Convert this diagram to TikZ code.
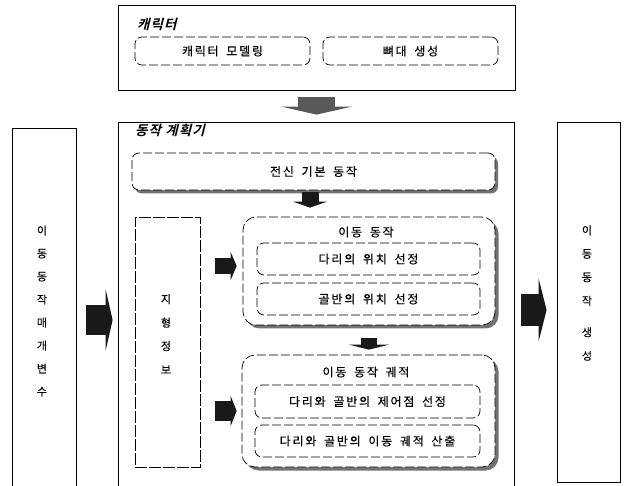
\documentclass[tikz,border=0pt]{standalone}
\usepackage{fontspec}
\newfontfamily\kr[LetterSpace=15, WordSpace=1.7, FakeBold=0.4]{Noto Sans CJK KR}
\newfontfamily\krt[FakeSlant=0.25, LetterSpace=8]{Noto Sans CJK KR Bold}
\usetikzlibrary{arrows.meta,shadows,calc}
\tikzset{
  outer/.style={draw=black, line width=0.8pt, inner sep=0pt, fill=white},
  terr/.style={draw=black, line width=0.6pt, dash pattern=on 12pt off 2pt, inner sep=0pt},
  inbox/.style={draw=black, line width=0.7pt, dash pattern=on 9pt off 3pt, rounded corners=7pt, inner sep=0pt, fill=white, font=\kr\fontsize{12}{14}\selectfont},
  shbox/.style={inbox, rounded corners=13pt, drop shadow={shadow xshift=3.5pt, shadow yshift=-3.5pt, fill=black!55, opacity=1}},
  shbar/.style={inbox, drop shadow={shadow xshift=3pt, shadow yshift=-3.5pt, fill=black!55, opacity=1}},
  ttl/.style={font=\krt\fontsize{13.5}{15}\selectfont, anchor=west, inner sep=0pt},
  lbl/.style={font=\kr\fontsize{12}{14}\selectfont, inner sep=0pt},
  blk/.style={line width=#1, draw=black!90},
  gblk/.style={line width=#1, draw=black!65}
}
\begin{document}
\begin{tikzpicture}[x=1pt, y=-1pt]
\useasboundingbox (0,0) rectangle (624,486);

% top character box
\node[outer, minimum width=397pt, minimum height=85pt] (charBox) at (316.5,47.5) {};
\node[ttl] (charT) at (137,24) {캐릭터};
\node[inbox, minimum width=175pt, minimum height=28pt] (model) at (222.5,51) {캐릭터 모델링};
\node[inbox, minimum width=175pt, minimum height=28pt] (bone) at (410.5,51) {뼈대 생성};

% side boxes
\node[outer, minimum width=64pt, minimum height=364pt] (leftBox) at (44,310) {};
\node[lbl, align=center, font=\kr\fontsize{11}{23}\selectfont] (leftT) at (42,311) {이\\동\\동\\작\\매\\개\\변\\수};
\node[outer, minimum width=63pt, minimum height=360pt] (rightBox) at (588.5,302) {};
\node[lbl, align=center, font=\kr\fontsize{11}{23.5}\selectfont] (rightT) at (587,293) {이\\동\\동\\작\\[8pt]생\\성};

% planner box
\node[outer, minimum width=396pt, minimum height=370pt] (planBox) at (316,307) {};
\node[ttl] (planT) at (135,130) {동작 계획기};

\node[shbar, minimum width=363pt, minimum height=37pt] (bodyBox) at (313.5,171.5) {전신 기본 동작};

\node[terr, minimum width=65pt, minimum height=250pt] (terrainBox) at (167.5,342) {};
\node[lbl, align=center, font=\kr\fontsize{11}{23.5}\selectfont] (terrT) at (166,334) {지\\형\\정\\보};

\node[shbox, minimum width=252pt, minimum height=108pt] (moveBox) at (369,271) {};
\node[lbl] (moveT) at (366,232) {이동 동작};
\node[inbox, minimum width=223pt, minimum height=32pt] (legBox) at (368.5,259) {다리의 위치 선정};
\node[inbox, minimum width=223pt, minimum height=32pt] (pelBox) at (368.5,299) {골반의 위치 선정};

\node[shbox, minimum width=253pt, minimum height=112pt] (trajBox) at (368.5,411) {};
\node[lbl] (trajT) at (366,372) {이동 동작 궤적};
\node[inbox, minimum width=225pt, minimum height=33pt] (ctrlBox) at (367.5,401.5) {다리와 골반의 제어점 선정};
\node[inbox, minimum width=225pt, minimum height=32pt] (calcBox) at (367.5,441) {다리와 골반의 이동 궤적 산출};

% block arrows
\draw[gblk=37pt, -{Triangle[width=71pt,length=8pt,line width=0pt]}, shorten <=7pt, shorten >=7pt]
  (charBox.south) -- (charBox.south |- planBox.north);
\draw[blk=17pt, -{Triangle[width=34pt,length=6pt,line width=0pt]}, shorten <=2pt, shorten >=9pt]
  ($(bodyBox.south)+(-3.5,0)$) -- ($(bodyBox.south |- moveBox.north)+(-3.5,0)$);
\draw[blk=16pt, -{Triangle[width=40pt,length=5pt,line width=0pt]}, shorten <=13pt, shorten >=5pt]
  (moveBox.south) -- (moveBox.south |- trajBox.north);
\draw[blk=16pt, -{Triangle[width=28pt,length=6pt,line width=0pt]}, shorten <=15pt, shorten >=6pt]
  ($(terrainBox.east |- moveBox.west)+(0,-5)$) -- ($(moveBox.west)+(0,-5)$);
\draw[blk=20pt, -{Triangle[width=30pt,length=6pt,line width=0pt]}, shorten <=15pt, shorten >=5pt]
  (terrainBox.east |- trajBox.west) -- (trajBox.west);
\draw[blk=30pt, -{Triangle[width=62pt,length=7pt,line width=0pt]}, shorten <=10pt, shorten >=5pt]
  ($(leftBox.east)+(0,10)$) -- ($(leftBox.east -| planBox.west)+(0,10)$);
\draw[blk=32pt, -{Triangle[width=63pt,length=8pt,line width=0pt]}, shorten <=7pt, shorten >=10pt]
  ($(planBox.east)+(0,3)$) -- ($(planBox.east -| rightBox.west)+(0,3)$);
\end{tikzpicture}
\end{document}
